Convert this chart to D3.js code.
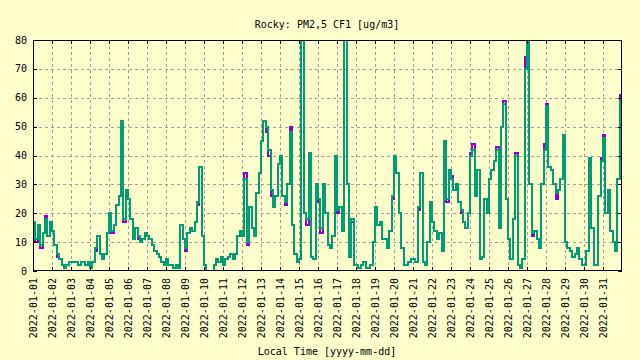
<!DOCTYPE html>
<html>
<head>
<meta charset="utf-8">
<script src="https://cdn.jsdelivr.net/npm/d3@7/dist/d3.min.js"></script>
<style>
html,body{margin:0;padding:0;background:#ffffcc;}
svg{display:block;}
text{font-family:"DejaVu Sans Mono","Liberation Mono",monospace;font-size:10px;fill:#000;}
</style>
</head>
<body>
<svg id="chart" width="640" height="360"></svg>
<script>
// Title / axis text
const titleText = "Rocky: PM2,5 CF1 [ug/m3]";
const xAxisTitle = "Local Time [yyyy-mm-dd]";

// Y ticks
const yTicks = [0, 10, 20, 30, 40, 50, 60, 70, 80];

// X tick labels (daily)
const xTickLabels = d3.range(1, 32).map(d => "2022-01-" + String(d).padStart(2, "0"));

// Series A (teal): 3-hourly readings, Jan 1 00:00 .. Feb 1 00:00
const seriesA = [
  17,11,16,9,13,18,12,17,
  14,9,6,4,2,1,2,3,
  3,3,3,2,3,3,2,3,
  1,3,8,12,6,4,6,13,
  20,14,16,23,26,52,18,28,
  25,18,11,15,12,10,11,13,
  12,11,9,7,6,5,3,2,
  4,2,2,1,2,1,16,11,
  8,13,15,14,17,24,36,12,
  2,0,0,0,2,4,3,5,
  2,4,5,6,4,6,12,14,
  12,32,10,22,15,12,27,34,
  45,52,50,42,28,22,26,37,
  40,26,24,30,48,16,6,3,
  4,80,20,18,41,5,4,30,
  25,15,30,20,9,8,12,40,
  21,22,14,80,30,5,18,2,
  2,1,2,3,1,1,2,10,
  22,16,17,11,11,8,14,26,
  40,34,20,8,2,2,3,4,
  4,3,22,34,3,2,10,24,
  17,14,11,13,7,45,25,35,
  32,28,30,24,21,17,15,20,
  40,42,26,35,4,5,25,20,
  32,35,38,42,15,50,58,25,
  11,4,18,40,2,1,4,70,
  80,30,13,14,11,8,30,42,
  57,36,35,30,27,28,32,47,
  10,8,7,5,6,8,4,2,
  2,7,39,15,2,2,26,38,
  46,20,28,14,10,7,32,59,
  59
];

// Series B (violet)
const seriesB = [
  17,10,16,8,13,19,12,17,
  14,9,5,4,2,1,2,3,
  3,3,3,2,3,3,2,3,
  1,3,7,12,6,4,6,13,
  20,13,16,23,26,52,17,28,
  25,18,11,15,11,10,11,13,
  12,11,9,7,6,5,3,2,
  4,2,2,1,2,1,16,11,
  7,13,15,14,17,23,36,12,
  2,0,0,0,2,4,3,5,
  2,4,5,6,4,6,12,14,
  12,34,9,22,15,12,27,34,
  45,52,48,40,26,22,26,37,
  40,26,23,30,50,16,6,3,
  4,80,20,16,41,5,4,28,
  24,13,30,20,9,8,12,40,
  20,22,14,80,30,5,17,2,
  2,1,2,3,1,1,2,10,
  21,16,17,11,11,8,14,25,
  40,34,20,8,2,2,3,4,
  4,3,21,34,3,2,10,24,
  17,14,11,13,7,45,24,35,
  33,28,30,24,20,17,15,20,
  41,44,26,35,4,5,25,20,
  32,35,38,43,15,50,59,25,
  11,4,18,41,2,1,4,74,
  80,30,12,14,11,8,30,44,
  58,36,35,30,25,28,32,47,
  10,8,7,5,6,8,4,2,
  2,7,39,15,2,2,26,39,
  47,20,28,14,10,7,32,61,
  61
];

const times = seriesA.map((_, i) => new Date(Date.UTC(2022, 0, 1, i * 3)));

const svg = d3.select("#chart");
const L = 33, R = 622, T = 40, B = 271;

const x = d3.scaleUtc()
  .domain([new Date(Date.UTC(2022, 0, 1)), new Date(Date.UTC(2022, 1, 1))])
  .range([L, R]);
const y = d3.scaleLinear().domain([0, 80]).range([B, T]);

const dayTicks = xTickLabels.map(s => new Date(s + "T00:00:00Z"));

// background
svg.append("rect").attr("width", 640).attr("height", 360).attr("fill", "#ffffcc");

// grid
const grid = svg.append("g").attr("stroke", "#a0a0a0").attr("stroke-width", 1).attr("stroke-dasharray", "3,3");
yTicks.filter(v => v > 0 && v < 80).forEach(v => {
  grid.append("line").attr("x1", L).attr("x2", R).attr("y1", Math.round(y(v)) + 0.5).attr("y2", Math.round(y(v)) + 0.5);
});
dayTicks.forEach((d, i) => {
  if (i === 0) return;
  const px = Math.round(x(d)) + 0.5;
  grid.append("line").attr("x1", px).attr("x2", px).attr("y1", T).attr("y2", B);
});

// clip
svg.append("clipPath").attr("id", "clip").append("rect")
  .attr("x", L).attr("y", T).attr("width", R - L).attr("height", B - T);

const line = d3.line().curve(d3.curveStepAfter)
  .x((d, i) => x(times[i])).y(d => y(d));

svg.append("path").datum(seriesB)
  .attr("clip-path", "url(#clip)")
  .attr("fill", "none").attr("stroke", "#9400d3").attr("stroke-width", 2)
  .attr("shape-rendering", "crispEdges")
  .attr("d", line);
svg.append("path").datum(seriesA)
  .attr("clip-path", "url(#clip)")
  .attr("fill", "none").attr("stroke", "#009e73").attr("stroke-width", 2)
  .attr("shape-rendering", "crispEdges")
  .attr("d", line);

// border
svg.append("rect").attr("x", L + 0.5).attr("y", T + 0.5).attr("width", R - L - 1).attr("height", B - T - 1)
  .attr("fill", "none").attr("stroke", "#000").attr("stroke-width", 1);

// tick marks
const tk = svg.append("g").attr("stroke", "#000").attr("stroke-width", 1);
yTicks.forEach(v => {
  const py = Math.round(y(v)) + 0.5;
  tk.append("line").attr("x1", L).attr("x2", L + 4).attr("y1", py).attr("y2", py);
  tk.append("line").attr("x1", R - 4).attr("x2", R).attr("y1", py).attr("y2", py);
});
dayTicks.forEach(d => {
  const px = Math.round(x(d)) + 0.5;
  tk.append("line").attr("x1", px).attr("x2", px).attr("y1", B).attr("y2", B - 4);
  tk.append("line").attr("x1", px).attr("x2", px).attr("y1", T).attr("y2", T + 4);
});

// y labels
yTicks.forEach(v => {
  svg.append("text").attr("x", 27).attr("y", y(v)).attr("dy", "0.35em")
    .attr("text-anchor", "end").text(v);
});

// x labels
dayTicks.forEach((d, i) => {
  svg.append("text")
    .attr("transform", `translate(${x(d)},278) rotate(-90)`)
    .attr("dy", "0.35em").attr("text-anchor", "end").text(xTickLabels[i]);
});

// titles
svg.append("text").attr("x", 327).attr("y", 28).attr("text-anchor", "middle").text(titleText);
svg.append("text").attr("x", 327).attr("y", 355).attr("text-anchor", "middle").text(xAxisTitle);
</script>
</body>
</html>
